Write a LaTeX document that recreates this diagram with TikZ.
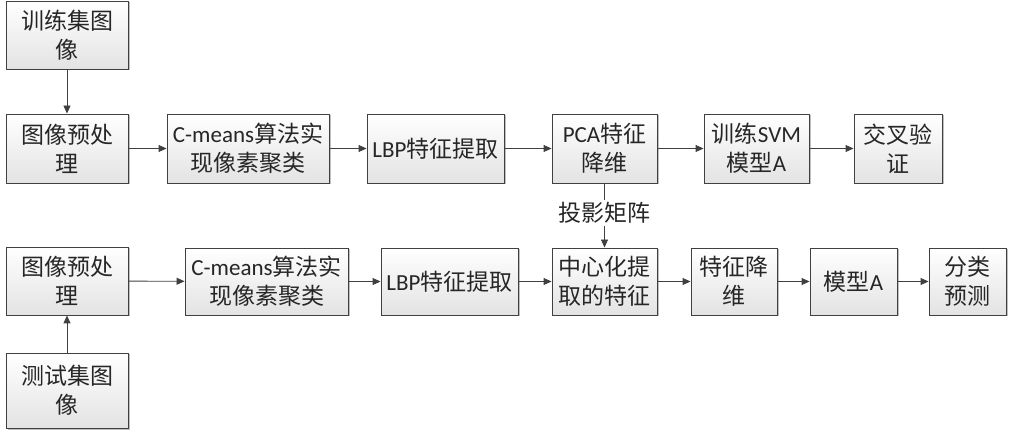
\documentclass[tikz,border=0pt]{standalone}
\usepackage{fontspec}
\setmainfont{Noto Sans CJK SC}
\newfontfamily\lat{Carlito}
\usetikzlibrary{arrows.meta,shadows}
\definecolor{edgegray}{HTML}{404040}
\begin{document}
\begin{tikzpicture}[x=1pt,y=-1pt,
  box/.style={draw=edgegray, line width=0.9pt, rectangle, top color=white, bottom color=black!11,
    drop shadow={shadow xshift=1.5pt, shadow yshift=-1.5pt, opacity=0.25, fill=black},
    align=center, inner sep=0pt, font=\fontsize{23}{29}\selectfont, text=black!85},
  conn/.style={draw=edgegray, line width=0.9pt},
  arr/.style={conn, -{Triangle[length=8pt,width=7pt]}},
  lbl/.style={font=\fontsize{23}{29}\selectfont, text=black!85, inner sep=2pt}]
\useasboundingbox (0,0) rectangle (1012,435);
% row 1
\node[box, minimum width=122pt, minimum height=68pt] (train) at (67,35) {训练集图\\像};
\node[box, minimum width=122pt, minimum height=69pt] (pre1) at (67,148.5) {图像预处\\理};
\node[box, minimum width=162pt, minimum height=69pt] (cm1) at (248,148.5) {{\lat C-means}算法实\\现像素聚类};
\node[box, minimum width=137pt, minimum height=69pt] (lbp1) at (435.5,148.5) {{\lat LBP}特征提取};
\node[box, minimum width=105pt, minimum height=69pt] (pca) at (604.5,148.5) {{\lat PCA}特征\\降维};
\node[box, minimum width=105pt, minimum height=69pt] (svm) at (756.5,148.5) {训练{\lat SVM}\\模型{\lat A}};
\node[box, minimum width=88pt, minimum height=69pt] (cv) at (898,148.5) {交叉验\\证};
% label
\node[lbl] (proj) at (604.5,213) {投影矩阵};
% row 2
\node[box, minimum width=122pt, minimum height=68pt] (pre2) at (67,281) {图像预处\\理};
\node[box, minimum width=163pt, minimum height=67pt] (cm2) at (266.5,281.5) {{\lat C-means}算法实\\现像素聚类};
\node[box, minimum width=137pt, minimum height=67pt] (lbp2) at (449.5,281.5) {{\lat LBP}特征提取};
\node[box, minimum width=105pt, minimum height=67pt] (cen) at (604.5,281.5) {中心化提\\取的特征};
\node[box, minimum width=86pt, minimum height=67pt] (fd) at (734,281.5) {特征降\\维};
\node[box, minimum width=87pt, minimum height=67pt] (ma) at (853.5,281.5) {模型{\lat A}};
\node[box, minimum width=77pt, minimum height=67pt] (cls) at (967.5,281.5) {分类\\预测};
\node[box, minimum width=122pt, minimum height=75pt] (test) at (67,390.5) {测试集图\\像};
% connectors
\draw[arr] (train) -- (pre1);
\draw[arr] (pre1) -- (cm1);
\draw[arr] (cm1) -- (lbp1);
\draw[arr] (lbp1) -- (pca);
\draw[arr] (pca) -- (svm);
\draw[arr] (svm) -- (cv);
\draw[conn] (pca.south) -- (proj.north);
\draw[arr] (proj.south) -- (cen.north);
\draw[arr] (pre2) -- (cm2);
\draw[arr] (cm2) -- (lbp2);
\draw[arr] (lbp2) -- (cen);
\draw[arr] (cen) -- (fd);
\draw[arr] (fd) -- (ma);
\draw[arr] (ma) -- (cls);
\draw[arr] (test) -- (pre2);
\end{tikzpicture}
\end{document}
